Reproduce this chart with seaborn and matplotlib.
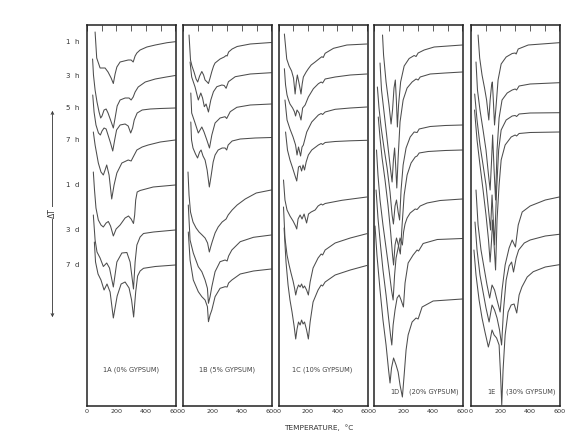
import matplotlib
matplotlib.use("Agg")
import matplotlib.pyplot as plt
import seaborn as sns

# curing ages (one trace per age, top to bottom)
ages = ["1  h", "3  h", "5  h", "7  h", "1  d", "3  d", "7  d"]

# DTA traces: temperature (deg C) and pen position
# (chart units, larger = further down / endothermic)
temp_1A = [
    [55, 66, 89, 123, 143, 164, 179, 191, 203, 225, 280, 300, 314, 327, 339, 361, 407, 464, 544, 600],
    [38, 44, 55, 68, 82, 93, 102, 116, 130, 143, 160, 179, 191, 205, 225, 259, 286, 300, 314, 327, 348, 396, 464, 539, 600],
    [39, 48, 61, 78, 91, 102, 116, 130, 143, 160, 175, 188, 201, 225, 259, 280, 297, 310, 321, 341, 375, 430, 498, 600],
    [43, 55, 77, 95, 111, 123, 134, 150, 168, 184, 203, 237, 280, 300, 314, 339, 375, 416, 498, 600],
    [43, 51, 61, 77, 95, 111, 130, 145, 160, 179, 198, 225, 259, 282, 300, 316, 324, 331, 341, 361, 450, 600],
    [43, 55, 68, 89, 111, 134, 153, 179, 203, 237, 271, 293, 316, 327, 339, 361, 384, 452, 600],
    [50, 58, 75, 95, 116, 136, 157, 179, 205, 232, 259, 286, 303, 317, 331, 344, 361, 384, 464, 600],
]
trace_1A = [
    [32, 58, 68, 68, 72, 78, 83.5, 74, 67, 62, 60, 60, 62, 56, 53, 50, 47, 45, 42.7, 41.7],
    [59, 75, 90, 102, 112, 118, 116, 110, 109, 113, 120, 128, 118, 106, 100, 98, 98, 100, 97, 92, 87, 82, 79, 77, 75.5],
    [95, 112, 125, 133, 135, 131, 128, 129, 135, 143, 151, 140, 130, 125, 124, 126, 133, 128, 120, 113, 110, 109, 108.5, 108],
    [132, 145, 163, 172, 175, 170, 165, 175, 199, 185, 173, 163, 160, 161, 157, 150, 147, 145, 142, 140],
    [172, 190, 208, 220, 225, 227, 223, 221.5, 226, 236, 229, 225, 218, 216, 219, 223.5, 215, 200, 192, 190.5, 187, 185],
    [215, 240, 252, 258, 266.5, 263, 268, 287, 262, 253, 252.5, 262, 289, 262, 245, 237, 233.5, 232, 230],
    [242, 262, 274, 280, 290, 284, 292, 318, 296, 284, 282, 288, 300, 317, 292, 276, 271, 268.3, 266.5, 265],
]

temp_1B = [
    [41, 51, 61, 75, 89, 100, 113, 128, 140, 150, 164, 173, 184, 196, 208, 218, 252, 280, 293, 300, 310, 334, 368, 457, 600],
    [48, 59, 82, 104, 121, 133, 145, 157, 173, 189, 207, 230, 264, 280, 293, 309, 355, 457, 600],
    [53, 59, 82, 104, 128, 143, 162, 180, 196, 218, 252, 286, 297, 321, 366, 457, 600],
    [53, 58, 68, 85, 99, 113, 123, 136, 150, 164, 179, 191, 205, 218, 239, 266, 286, 297, 307, 334, 389, 491, 600],
    [34, 41, 51, 68, 89, 109, 130, 150, 167, 179, 188, 198, 218, 239, 266, 293, 307, 334, 368, 423, 498, 600],
    [36, 48, 70, 104, 128, 150, 166, 173, 184, 196, 218, 252, 286, 300, 310, 332, 389, 479, 600],
    [36, 48, 70, 104, 128, 150, 166, 173, 184, 196, 218, 252, 286, 300, 310, 332, 389, 479, 600],
]
trace_1B = [
    [35, 60, 66, 72, 79, 82, 76, 71.5, 75, 80, 82, 83.5, 78, 71.5, 66, 63, 59, 57, 55.5, 56, 52, 49, 46.5, 44, 42.5],
    [62, 77, 87, 100, 93, 98, 106.7, 104, 112, 100, 91.7, 86.7, 85, 85.5, 88.3, 81.7, 76.7, 74, 72.7],
    [93, 113, 123, 133, 127, 132, 140, 148, 135, 123, 118, 116.7, 118.5, 111.7, 107.3, 105, 104],
    [122, 140, 148, 154, 158, 152, 150, 156, 160, 170, 187, 176, 162, 155, 150, 148, 148, 150, 145, 141, 139, 138, 137.5],
    [172, 195, 212, 222, 228, 232, 235, 238, 243, 252, 247, 242, 233, 227, 222, 219, 215, 210, 205, 199, 193, 190],
    [205, 240, 253, 266.7, 271.7, 280, 288.3, 303.3, 296.7, 286.7, 271.7, 261.7, 260, 261, 256, 250, 241.7, 237.3, 235],
    [232, 260, 280, 291.7, 296.7, 300, 306.7, 321.7, 315, 310, 296.7, 288.3, 286.7, 287, 283, 280, 274, 271, 269],
]

temp_1C = [
    [40, 56, 72, 89, 102, 113, 121, 128, 138, 147, 153, 161, 169, 188, 203, 222, 249, 283, 295, 304, 317, 374, 465, 600],
    [40, 48, 58, 68, 78, 96, 109, 116, 126, 140, 153, 164, 181, 203, 237, 271, 290, 300, 317, 385, 488, 600],
    [44, 58, 78, 99, 116, 126, 136, 150, 160, 169, 192, 226, 271, 290, 300, 317, 385, 488, 600],
    [48, 61, 78, 96, 113, 124, 136, 147, 157, 167, 177, 188, 203, 226, 271, 290, 300, 317, 385, 488, 600],
    [34, 44, 58, 78, 99, 116, 124, 133, 147, 160, 174, 191, 204, 222, 249, 269, 290, 300, 317, 431, 600],
    [34, 44, 58, 72, 85, 99, 109, 117, 126, 136, 147, 157, 167, 177, 191, 203, 215, 235, 269, 290, 300, 317, 385, 488, 600],
    [38, 51, 65, 78, 92, 106, 117, 126, 136, 147, 157, 167, 177, 191, 203, 215, 235, 269, 290, 300, 317, 385, 488, 600],
]
trace_1C = [
    [34, 59, 66, 71, 78, 94, 82, 75, 82, 89, 94, 84, 77, 72, 68.7, 65, 62, 58, 56.7, 57.5, 53.3, 48.3, 45, 44],
    [68.7, 85, 95, 100, 104, 108, 112, 116, 110, 113, 120, 108, 105, 97, 88.7, 83.7, 82, 83, 79, 77, 75, 74],
    [100, 120, 129, 137, 145, 155, 147, 156, 147, 145, 132, 122, 115, 113.5, 114.5, 112, 109.3, 108, 107],
    [132, 150, 160, 168, 176, 181, 167, 166, 171, 165, 170, 162, 155, 150, 145, 143.5, 144.5, 142.5, 141.5, 140.8, 140.3],
    [180, 200, 210, 216, 221, 226, 229, 219, 215, 219, 214, 223, 214, 212, 210, 206, 204, 205, 203.5, 200.3, 197],
    [207, 238, 255, 265, 273, 281, 288, 295, 289, 285, 287, 284, 288, 286, 290, 295, 282, 268, 258, 254, 255, 250, 243, 238, 233.7],
    [228, 262, 285, 300, 312, 326, 339, 329, 322, 325, 320, 324, 322, 330, 339, 322, 302, 290, 285, 286, 282, 275, 270, 265.5],
]

temp_1D = [
    [58, 65, 82, 102, 116, 126, 136, 145, 152, 159, 167, 181, 205, 239, 273, 286, 300, 341, 409, 600],
    [41, 51, 65, 82, 99, 113, 123, 132, 140, 147, 155, 164, 177, 198, 225, 259, 286, 300, 314, 382, 484, 600],
    [23, 34, 48, 68, 89, 109, 123, 132, 143, 153, 164, 174, 184, 198, 218, 246, 273, 293, 307, 382, 484, 600],
    [29, 41, 55, 75, 95, 113, 126, 133, 143, 153, 167, 179, 191, 205, 225, 252, 280, 293, 307, 368, 484, 600],
    [17, 27, 41, 61, 82, 102, 119, 130, 140, 150, 164, 177, 193, 201, 211, 225, 246, 280, 293, 314, 361, 450, 600],
    [14, 27, 44, 61, 82, 99, 113, 121, 130, 143, 157, 171, 184, 200, 211, 232, 266, 293, 303, 334, 430, 600],
    [7, 20, 41, 61, 82, 99, 109, 119, 133, 150, 164, 177, 193, 205, 218, 232, 259, 286, 300, 327, 402, 600],
]
trace_1D = [
    [35, 55, 82, 105, 124, 110, 88, 80, 100, 127, 105, 82, 66, 58.5, 55.5, 56.5, 53, 50, 47, 45],
    [63, 90, 108, 130, 152, 170, 182, 160, 148, 165, 188, 158, 122, 100, 88, 82, 79, 80, 77, 74, 73, 72],
    [87, 108, 127, 148, 168, 192, 215, 224, 206, 200, 212, 220, 190, 165, 148, 137, 132, 132.5, 129, 126.5, 125.5, 125],
    [117, 138, 158, 180, 205, 232, 255, 265, 245, 238, 246, 254, 225, 195, 175, 163, 157, 156, 153, 151.5, 150.5, 150],
    [150, 175, 200, 225, 248, 270, 290, 300, 275, 258, 248, 238, 245, 232, 224, 218, 213, 209, 209.5, 206, 203, 200.5, 199],
    [190, 218, 245, 270, 295, 318, 336, 345, 325, 310, 298, 295, 300, 307, 283, 263, 255, 250, 251, 243.5, 239.5, 238.5],
    [226, 255, 290, 320, 345, 370, 383, 368, 358, 365, 372, 385, 397, 375, 350, 335, 322, 318, 319, 307, 301, 299],
]

temp_1E = [
    [48, 59, 75, 92, 106, 121, 130, 140, 145, 150, 160, 171, 184, 205, 239, 280, 300, 307, 321, 389, 600],
    [34, 44, 61, 82, 102, 119, 130, 140, 147, 157, 167, 177, 191, 211, 246, 280, 300, 310, 327, 402, 600],
    [25, 41, 61, 82, 102, 119, 133, 143, 160, 174, 188, 205, 239, 280, 300, 310, 327, 402, 600],
    [24, 41, 61, 82, 102, 119, 130, 140, 147, 157, 167, 177, 191, 205, 232, 273, 300, 310, 327, 402, 600],
    [34, 48, 68, 89, 109, 127, 143, 160, 177, 198, 211, 232, 259, 280, 302, 321, 348, 402, 505, 600],
    [27, 41, 61, 82, 102, 123, 143, 160, 177, 194, 208, 221, 239, 259, 276, 289, 307, 324, 362, 402, 505, 600],
    [20, 34, 55, 75, 95, 118, 130, 143, 157, 174, 191, 201, 209, 218, 232, 252, 273, 293, 311, 327, 346, 382, 423, 505, 600],
]
trace_1E = [
    [35, 58, 75, 88, 100, 120, 100, 85, 82, 95, 125, 105, 80, 64, 57, 53.5, 53, 54, 49, 45, 42.7],
    [62, 90, 110, 130, 150, 175, 190, 160, 135, 170, 200, 150, 118, 100, 93, 90, 89, 90, 86, 84, 82.7],
    [94, 120, 145, 165, 185, 210, 230, 195, 245, 190, 150, 130, 120, 116, 115.5, 116.5, 114, 113, 112.7],
    [110, 140, 165, 190, 215, 240, 262, 240, 220, 245, 270, 220, 185, 160, 145, 137, 135, 136, 133.5, 132.5, 132],
    [190, 225, 250, 268, 285, 298, 285, 290, 300, 312, 290, 265, 248, 240, 247, 225, 212, 206, 200, 197],
    [222, 250, 275, 292, 308, 322, 305, 310, 318, 330, 345, 310, 280, 266, 262, 272, 258, 250, 243, 240, 236, 234.3],
    [250, 275, 300, 318, 332, 347, 340, 330, 335, 338, 345, 375, 405, 370, 335, 312, 305, 304, 313, 295, 287, 277, 271.7, 267, 264.7],
]

tick_values = [0, 100, 200, 300, 400, 500, 600]
tick_labels = ["0", "", "200", "", "400", "", "600"]

panels = [
    ("1A (0% GYPSUM)", temp_1A, trace_1A),
    ("1B (5% GYPSUM)", temp_1B, trace_1B),
    ("1C (10% GYPSUM)", temp_1C, trace_1C),
    ("1D", temp_1D, trace_1D),
    ("1E", temp_1E, trace_1E),
]
extra_labels = {3: "(20% GYPSUM)", 4: "(30% GYPSUM)"}

sns.set_style("white")
plt.rcParams["font.family"] = ["DejaVu Sans"]

W, H = 584, 433
fig = plt.figure(figsize=(W / 100, H / 100), dpi=100)
lefts = [87, 183, 278.5, 374, 471]

axes = []
for i, (name, temps, traces) in enumerate(panels):
    ax = fig.add_axes([lefts[i] / W, 27 / H, 89 / W, 381 / H])
    for t, y in zip(temps, traces):
        sns.lineplot(x=t, y=y, ax=ax, color="#4d4d4d", linewidth=0.75,
                     sort=False, estimator=None)
    ax.set_xlim(0, 605)
    ax.set_ylim(406, 25)
    ax.set(xlabel="", ylabel="")
    ax.set_yticks([])
    ax.set_xticks(tick_values)
    ax.set_xticklabels(tick_labels)
    ax.tick_params(axis="x", direction="in", top=True, length=4, width=0.6,
                   labelsize=4.6, pad=2.5, labelcolor="#333333", color="#444444")
    for s in ax.spines.values():
        s.set_linewidth(1.1)
        s.set_color("#222222")
    if i < 3:
        ax.text(300, 370, name, ha="center", va="center", fontsize=4.8, color="#444444")
    else:
        ax.text(140, 392, name, ha="center", va="center", fontsize=4.8, color="#444444")
        ax.text(240, 392, extra_labels[i], ha="left", va="center", fontsize=4.8, color="#444444")
    axes.append(ax)

# age labels beside the first panel, level with each trace's final baseline
ax0 = axes[0]
for age, y in zip(ages, trace_1A):
    ax0.text(-95, y[-1], age, ha="center", va="center", fontsize=5,
             color="#333333", clip_on=False)

# double-headed delta-T arrow
ax0.annotate("", xy=(-235, 108), xytext=(-235, 320), annotation_clip=False,
             arrowprops=dict(arrowstyle="<->", lw=0.6, color="#333333",
                             mutation_scale=5))
ax0.text(-235, 213, "\u0394T", rotation=90, ha="center", va="center", fontsize=5.5,
         color="#333333", clip_on=False,
         bbox=dict(facecolor="white", edgecolor="none", pad=0.8))

fig.text(319 / W, 1 - 428 / H, "TEMPERATURE,  \u00b0C", ha="center", va="center",
         fontsize=5.3, color="#333333")

fig.savefig("out.png", dpi=100)
